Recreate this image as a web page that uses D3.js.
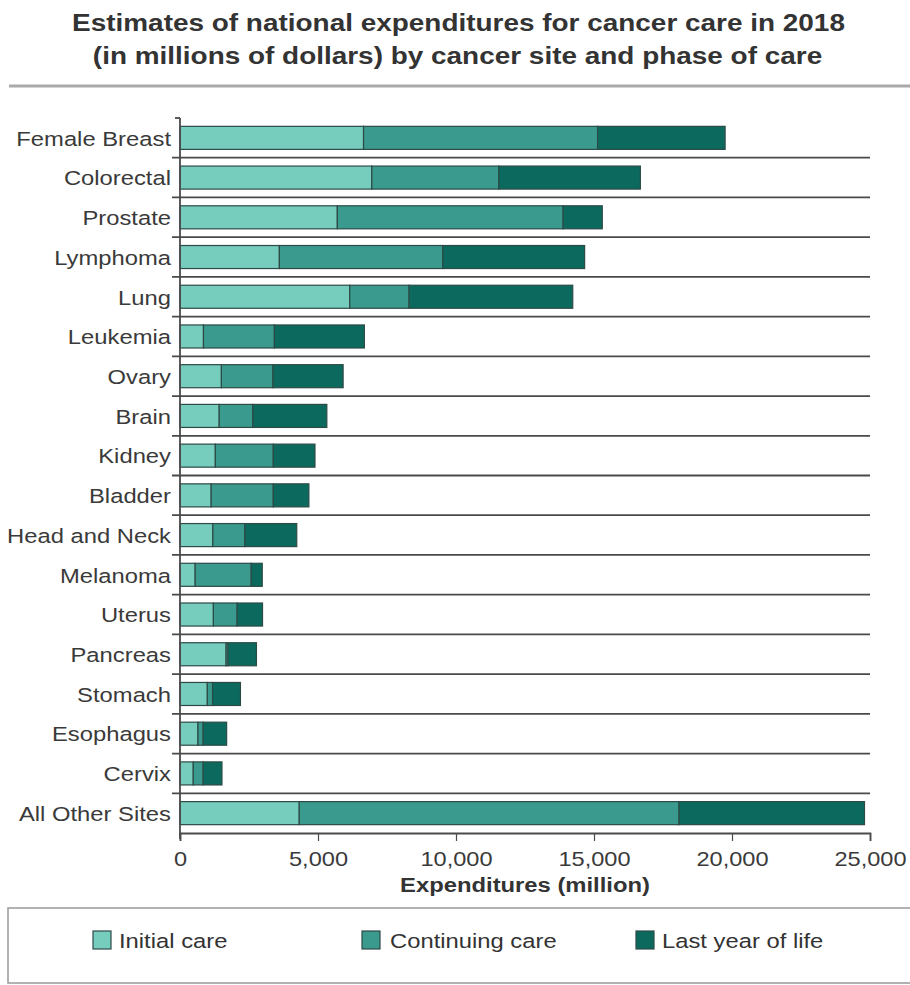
<!DOCTYPE html>
<html><head><meta charset="utf-8">
<script src="https://cdn.jsdelivr.net/npm/d3@7"></script>
<style>body{margin:0;background:#fff}</style>
</head><body>
<script>
const categories = ["Female Breast","Colorectal","Prostate","Lymphoma","Lung","Leukemia","Ovary","Brain","Kidney","Bladder","Head and Neck","Melanoma","Uterus","Pancreas","Stomach","Esophagus","Cervix","All Other Sites"];
const initialCare =    [6650,6950,5700,3600,6150, 850,1500,1420,1280,1130,1190, 550,1210,1670, 990,650,480,4320];
const continuingCare = [8480,4600,8180,5920,2150,2570,1870,1220,2100,2250,1160,2030, 860,  70, 190,190,360,13760];
const lastYearOfLife = [4620,5130,1420,5140,5930,3260,2540,2680,1510,1290,1880, 400, 920,1030,1010,850,680,6720];
const seriesNames = ["Initial care","Continuing care","Last year of life"];
const xTicks = [0,5000,10000,15000,20000,25000];

const colors = ["#76ccbd","#3a9a8e","#0b6a5d"];
const FONT = "'Liberation Sans', Arial, Helvetica, sans-serif";
const W = 910, H = 985;
const svg = d3.select("body").append("svg").attr("width",W).attr("height",H)
  .style("font-family",FONT);

function stretchedText(parent, x, y, sx, str, opts){
  const g = parent.append("g").attr("transform",`translate(${x},${y}) scale(${sx},1)`);
  const t = g.append("text").attr("x",0).attr("y",0).text(str);
  Object.entries(opts||{}).forEach(([k,v])=>t.attr(k,v));
  return t;
}

// Title
stretchedText(svg,458.5,31,1.14,"Estimates of national expenditures for cancer care in 2018",
  {"text-anchor":"middle","font-size":24.5,"font-weight":"bold","fill":"#333"});
stretchedText(svg,457.5,64,1.14,"(in millions of dollars) by cancer site and phase of care",
  {"text-anchor":"middle","font-size":24.5,"font-weight":"bold","fill":"#333"});
svg.append("line").attr("x1",9).attr("x2",910).attr("y1",86).attr("y2",86)
  .attr("stroke","#aaa").attr("stroke-width",3);

const x0 = 180, x1 = 870, yTop = 118, yBot = 833;
const x = d3.scaleLinear().domain([0,25000]).range([x0,x1]);
const y = d3.scaleBand().domain(categories).range([yTop,yBot]).paddingInner(0).paddingOuter(0);

const data = categories.map((c,i)=>({cat:c,"Initial care":initialCare[i],"Continuing care":continuingCare[i],"Last year of life":lastYearOfLife[i]}));
const stacked = d3.stack().keys(seriesNames)(data);

// separators
const g = svg.append("g");
categories.forEach((c,i)=>{
  if(i>0) g.append("line").attr("x1",x0-8).attr("x2",x1).attr("y1",y(c)).attr("y2",y(c))
    .attr("stroke","#4a4a4a").attr("stroke-width",1.8);
});
g.append("line").attr("x1",x0-5).attr("x2",x0).attr("y1",yTop).attr("y2",yTop).attr("stroke","#4a4a4a").attr("stroke-width",1.8);

const bh = y.bandwidth()*0.58;
stacked.forEach((s,si)=>{
  g.selectAll(null).data(s).enter().append("rect")
    .attr("x",d=>x(d[0])).attr("width",d=>x(d[1])-x(d[0]))
    .attr("y",d=>y(d.data.cat)+(y.bandwidth()-bh)/2).attr("height",bh)
    .attr("fill",colors[si]).attr("stroke","#2d4a46").attr("stroke-width",1.2);
});

// y axis line
g.append("line").attr("x1",x0).attr("x2",x0).attr("y1",yTop).attr("y2",yBot+6).attr("stroke","#4a4a4a").attr("stroke-width",1.8);

// labels
categories.forEach(c=>{
  stretchedText(g,171,y(c)+y.bandwidth()/2,1.22,c,
    {"text-anchor":"end","dy":"0.4em","font-size":19.5,"fill":"#3a3a3a"});
});

// x axis
const xAxisG = svg.append("g").attr("transform",`translate(0,${yBot})`);
xAxisG.call(d3.axisBottom(x).tickValues(d3.range(0,25001,1000)).tickSize(5).tickFormat(""));
xAxisG.call(d3.axisBottom(x).tickValues(xTicks).tickSize(8).tickFormat(d3.format(",")));
xAxisG.selectAll("path.domain").attr("stroke","#4a4a4a").attr("stroke-width",1.8);
xAxisG.selectAll("line").attr("stroke","#4a4a4a").attr("stroke-width",1.2);
xAxisG.selectAll("text").attr("font-size",20).attr("fill","#3a3a3a").attr("font-family",FONT)
  .attr("dy","1.1em").attr("transform","scale(1.18,1)");
stretchedText(svg,525,892,1.19,"Expenditures (million)",
  {"text-anchor":"middle","font-size":20,"font-weight":"bold","fill":"#333"});

// legend
svg.append("rect").attr("x",8).attr("y",908).attr("width",910).attr("height",75)
  .attr("fill","none").attr("stroke","#999").attr("stroke-width",1.5);
const legX = [93,362,636];
const legTX = [119,390,662];
seriesNames.forEach((n,i)=>{
  svg.append("rect").attr("x",legX[i]).attr("y",931).attr("width",18).attr("height",18)
    .attr("fill",colors[i]).attr("stroke","#2d4a46").attr("stroke-width",1.2);
  stretchedText(svg,legTX[i],948,1.22,n,{"font-size":19.5,"fill":"#333"});
});
</script>
</body></html>
